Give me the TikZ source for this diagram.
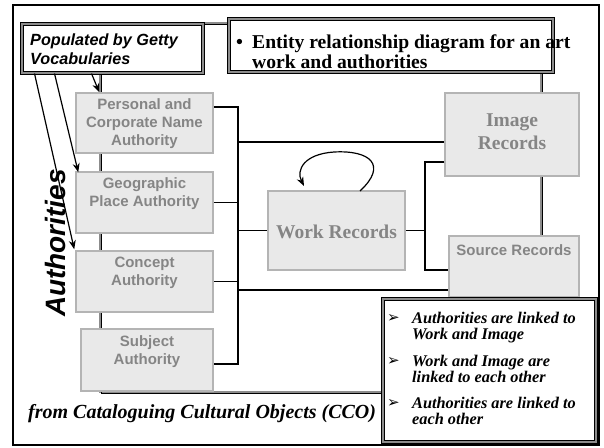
\documentclass[tikz,border=0pt]{standalone}
\usepackage{fontspec}
\setmainfont{Liberation Serif}
\setsansfont{Liberation Sans}
\newfontfamily\dejavu{DejaVu Sans}
\usetikzlibrary{calc,arrows.meta}
\definecolor{boxfill}{HTML}{E9E9E9}
\definecolor{boxline}{HTML}{B4B4B4}
\definecolor{boxtext}{HTML}{858585}
\definecolor{frameshade}{HTML}{8C8C8C}
\tikzset{
  entbox/.style={draw=boxline, fill=boxfill, line width=1.5pt, inner sep=0pt},
  authtext/.style={text=boxtext, font=\fontsize{15}{18}\selectfont\sffamily\bfseries, align=center, inner sep=0pt},
  rectext/.style={text=boxtext, font=\fontsize{19.5}{23}\selectfont\rmfamily\bfseries, align=center, inner sep=0pt},
  dblbox/.style={draw=black, line width=1pt, double=frameshade, double distance=1.4pt, fill=white, inner sep=0pt},
  conn/.style={draw=black, line width=1.3pt},
  popar/.style={draw=black, line width=1.2pt, -{Stealth[length=9pt,width=7pt]}},
  bultext/.style={font=\fontsize{16.3}{16}\selectfont\rmfamily\bfseries\itshape, anchor=base west, inner sep=0pt},
  bulsym/.style={font=\fontsize{15}{15}\selectfont\dejavu, anchor=base west, inner sep=0pt},
  enttext/.style={font=\fontsize{19.6}{20}\selectfont\rmfamily\bfseries, anchor=base west, inner sep=0pt},
}
\begin{document}
\begin{tikzpicture}[x=1pt,y=-1pt]
\useasboundingbox (0,0) rectangle (604,447);
\fill[white] (0,0) rectangle (604,447);
% outer border
\draw[line width=2pt] (13,5) rectangle (599,445);
% inner frame (only the parts outside the white boxes)
\draw[frameshade, line width=2pt] (229,23) -- (100,23) -- (100,392) -- (541,392) -- (541,72);
\draw[black, line width=1.6pt] (229,24.5) -- (101.5,24.5) -- (101.5,393.5) -- (542.5,393.5) -- (542.5,72);

% entity boxes
\node[entbox, minimum width=137pt, minimum height=60pt] (pers) at (144.5,123) {};
\node[entbox, minimum width=137pt, minimum height=61pt] (geo) at (144.5,202.5) {};
\node[entbox, minimum width=137pt, minimum height=61pt] (conc) at (144.5,281.5) {};
\node[entbox, minimum width=132pt, minimum height=62pt] (subj) at (147,360) {};
\node[entbox, minimum width=137pt, minimum height=79pt] (work) at (336.5,230.5) {};
\node[entbox, minimum width=134pt, minimum height=83pt] (img) at (512,134.5) {};
\node[entbox, minimum width=130pt, minimum height=61pt] (src) at (514,266.5) {};

\node[authtext] (perst) at (144.5,124) {Personal and\\Corporate Name\\Authority};
\node[authtext] (geot) at (144.5,194) {Geographic\\Place Authority};
\node[authtext] (conct) at (144.5,273) {Concept\\Authority};
\node[authtext] (subjt) at (147,352) {Subject\\Authority};
\node[rectext] (workt) at (336.5,232) {Work Records};
\node[rectext] (imgt) at (512,132) {Image\\Records};
\node[authtext] (srct) at (514,250) {Source Records};

% bus on the left
\coordinate (bustop) at (238,107);
\coordinate (busbot) at (238,364);
\draw[conn] (pers.east |- bustop) -- (bustop) -- (busbot) -- (subj.east |- busbot);
\draw[conn] (geo.east) -- (geo.east -| bustop);
\draw[conn] (conc.east) -- (conc.east -| bustop);
\coordinate (bimg) at (238,142);
\coordinate (bwork) at (238,230.5);
\coordinate (bsrc) at (238,290);
\draw[conn] (bimg) -- (img.west |- bimg);
\draw[conn] (bwork) -- (work.west);
\draw[conn] (bsrc) -- (src.west |- bsrc);

% work to image / source
\coordinate (jw) at (425,230.5);
\coordinate (jtop) at (425,162);
\coordinate (jbot) at (425,270);
\draw[conn] (work.east) -- (jw);
\draw[conn] (img.west |- jtop) -- (jtop) -- (jbot) -- (src.west |- jbot);

% self loop
\coordinate (ls) at (360,191);
\coordinate (le) at (304,186);
\draw[line width=1.2pt, -{Stealth[length=9pt,width=7pt]}] (ls) .. controls (388,165) and (370,150) .. (334,152) .. controls (304,154) and (296,170) .. (le);

% double boxes
\node[dblbox, minimum width=181pt, minimum height=49pt] (pop) at (112.5,48.5) {};
\node[font=\fontsize{16.2}{18}\selectfont\sffamily\bfseries\itshape, anchor=base west, inner sep=0pt] (pop1) at (30,45.5) {Populated by Getty};
\node[font=\fontsize{16.2}{18}\selectfont\sffamily\bfseries\itshape, anchor=base west, inner sep=0pt] (pop2) at (30,64) {Vocabularies};

\node[dblbox, minimum width=324pt, minimum height=53pt] (ent) at (391,45.5) {};
\node[enttext] (entb) at (236,48) {•};
\node[enttext] (ent1) at (252,48) {Entity relationship diagram for an art};
\node[enttext] (ent2) at (252,68) {work and authorities};

\node[dblbox, minimum width=213pt, minimum height=143pt] (bul) at (489.5,370.5) {};
\node[bulsym] (s1) at (387,322) {➢};
\node[bultext] (t1a) at (412,323) {Authorities are linked to};
\node[bultext] (t1b) at (412,339) {Work and Image};
\node[bulsym] (s2) at (387,365) {➢};
\node[bultext] (t2a) at (412,366) {Work and Image are};
\node[bultext] (t2b) at (412,382) {linked to each other};
\node[bulsym] (s3) at (387,407) {➢};
\node[bultext] (t3a) at (412,408) {Authorities are linked to};
\node[bultext] (t3b) at (412,424) {each other};

% arrows from Populated box
\coordinate (pa1) at ($(pop.south west)+(13,0)$);
\coordinate (pa2) at ($(pop.south west)+(33,0)$);
\coordinate (pa3) at ($(pop.south west)+(70,0)$);
\draw[popar] (pa3) -- ($(pers.north west)+(24,0)$);
\draw[popar] (pa2) -- ($(geo.north west)+(3,1)$);
\draw[popar] (pa1) -- ($(conc.north west)+(-1,-1)$);

% rotated label
\node[rotate=90, font=\fontsize{28}{28}\selectfont\sffamily\bfseries\itshape, inner sep=0pt] (auth) at (55,243) {Authorities};

% source caption
\node[font=\fontsize{20}{20}\selectfont\rmfamily\bfseries\itshape, anchor=base west, inner sep=0pt] (cco) at (28,418) {from Cataloguing Cultural Objects (CCO)};
\end{tikzpicture}
\end{document}
